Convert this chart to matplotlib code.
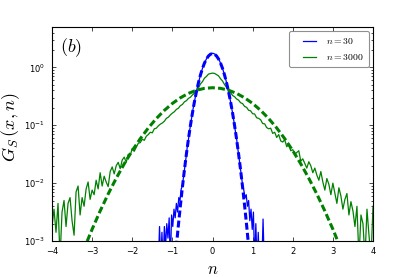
import numpy as np
import matplotlib
matplotlib.use("Agg")
import matplotlib.pyplot as plt
from matplotlib.legend_handler import HandlerLine2D

plt.rcParams['mathtext.fontset'] = 'cm'
plt.rcParams['font.family'] = ['DejaVu Sans']
plt.rcParams['lines.scale_dashes'] = False

# ---------------- data ----------------
# n = 30 : histogram (log10 of G_S), bins -1.35 ... 1.35 step 0.03
blue_x = np.linspace(-1.35, 1.35, 91)
blue_log10 = [
    -3.4, -2.75, -3.4, -2.85, -3.4, -2.75, -3.1, -2.7, -2.95, -2.6,
    -3.4, -2.55, -2.75, -2.45, -2.6, -2.35, -2.5, -2.25, -2.3, -2.1,
    -2.05, -1.88, -1.72, -1.56, -1.38, -1.25, -1.09, -0.96, -0.83, -0.70,
    -0.595, -0.48, -0.385, -0.29, -0.21, -0.13, -0.06, 0.005, 0.06, 0.105,
    0.15, 0.18, 0.21, 0.228, 0.24, 0.245, 0.24, 0.23, 0.205, 0.18,
    0.145, 0.108, 0.055, 0.0, -0.06, -0.135, -0.205, -0.295, -0.385, -0.49,
    -0.59, -0.71, -0.825, -0.96, -1.10, -1.23, -1.40, -1.55, -1.72, -1.87,
    -2.04, -2.12, -2.25, -2.2, -2.4, -2.3, -2.65, -2.45, -2.8, -2.5,
    -3.4, -2.7, -3.4, -2.85, -3.4, -3.4, -3.4, -2.62, -3.4, -3.4,
    -3.4,
]

# n = 3000 : histogram (log10 of G_S), bins -4 ... 4 step 0.05
green_x = np.linspace(-4.0, 4.0, 161)
green_log10 = [
    -2.75, -2.45, -2.85, -2.35, -3.30, -2.50, -2.30, -2.75, -2.35, -2.25,
    -2.65, -2.90, -2.15, -2.05, -2.55, -2.25, -2.40, -2.10, -1.98, -2.28,
    -2.12, -2.20, -1.95, -2.10, -1.82, -2.05, -1.88, -1.98, -2.06, -1.80,
    -1.72, -1.84, -1.70, -1.64, -1.75, -1.60, -1.55, -1.64, -1.50, -1.52,
    -1.40, -1.45, -1.38, -1.31, -1.30, -1.24, -1.26, -1.19, -1.16, -1.12,
    -1.13, -1.06, -1.05, -1.01, -0.98, -0.96, -0.93, -0.88, -0.86, -0.82,
    -0.79, -0.765, -0.725, -0.705, -0.66, -0.64, -0.595, -0.575, -0.535, -0.515,
    -0.475, -0.445, -0.395, -0.355, -0.285, -0.245, -0.185, -0.155, -0.115, -0.105,
    -0.098, -0.103, -0.125, -0.145, -0.195, -0.235, -0.295, -0.345, -0.405, -0.435,
    -0.485, -0.505, -0.545, -0.565, -0.61, -0.625, -0.675, -0.69, -0.74, -0.75,
    -0.80, -0.805, -0.87, -0.88, -0.905, -0.97, -0.975, -1.04, -1.06, -1.05,
    -1.14, -1.12, -1.21, -1.16, -1.27, -1.29, -1.25, -1.37, -1.33, -1.44,
    -1.42, -1.50, -1.47, -1.44, -1.62, -1.58, -1.66, -1.74, -1.63, -1.70,
    -1.82, -1.74, -1.86, -1.95, -1.80, -1.98, -2.12, -1.92, -2.02, -2.20,
    -2.00, -2.18, -2.35, -2.08, -2.22, -2.45, -2.28, -2.18, -2.55, -2.32,
    -2.48, -2.75, -2.40, -3.30, -2.55, -2.70, -3.30, -2.45, -2.90, -3.30,
    -2.40,
]

# Gaussian reference curves (dashed)
blue_fit_x = np.linspace(-0.95, 0.95, 39)
blue_fit = [0.000343, 0.000821, 0.00188, 0.00410, 0.00852, 0.0169, 0.0320,
            0.0577, 0.0995, 0.163, 0.256, 0.382, 0.545, 0.741, 0.961, 1.189,
            1.403, 1.579, 1.694, 1.735, 1.694, 1.579, 1.403, 1.189, 0.961,
            0.741, 0.545, 0.382, 0.256, 0.163, 0.0995, 0.0577, 0.0320, 0.0169,
            0.00852, 0.00410, 0.00188, 0.000821, 0.000343]

green_fit_x = np.linspace(-3.4, 3.4, 35)
green_fit = [0.000322, 0.000736, 0.001597, 0.00330, 0.00649, 0.01213, 0.02156,
             0.0365, 0.0587, 0.0899, 0.1308, 0.1811, 0.2386, 0.2988, 0.356,
             0.4035, 0.435, 0.446, 0.435, 0.4035, 0.356, 0.2988, 0.2386,
             0.1811, 0.1308, 0.0899, 0.0587, 0.0365, 0.02156, 0.01213,
             0.00649, 0.00330, 0.001597, 0.000736, 0.000322]

labels = [r'$n=30$', r'$n=3000$']
x_ticks = [-4, -3, -2, -1, 0, 1, 2, 3, 4]

# ---------------- figure ----------------
fig = plt.figure(figsize=(4.15, 2.77), dpi=100)
ax = fig.add_axes([52/415, 36/277, 321/415, 214/277])

blue = '#0000ff'
green = '#008000'

l1, = ax.plot(blue_x, 10 ** np.array(blue_log10), color=blue, lw=0.9, label=labels[0])
l2, = ax.plot(green_x, 10 ** np.array(green_log10), color=green, lw=0.9, label=labels[1])
ax.plot(blue_fit_x, blue_fit, color=blue, lw=2.2, dashes=(5.0, 2.3))
ax.plot(green_fit_x, green_fit, color=green, lw=2.2, dashes=(5.0, 2.3))

ax.set_yscale('log')
ax.set_ylim(1e-3, 5)
ax.set_xlim(-4, 4)
ax.set_xticks(x_ticks)

ax.tick_params(which='both', direction='in', top=True, right=True, width=0.5)
ax.tick_params(which='major', length=3, labelsize=6)
ax.tick_params(which='minor', length=1.6)
ax.tick_params(axis='x', pad=4.5)
ax.tick_params(axis='y', pad=5)
for s in ax.spines.values():
    s.set_linewidth(0.8)

ax.set_xlabel(r'$n$', fontsize=12)
ax.xaxis.set_label_coords(0.5, -0.09)
ax.set_ylabel(r'$G_S\,(x,n)$', fontsize=13)
ax.yaxis.set_label_coords(-0.095, 0.53)

ax.text(0.025, 0.955, r'$(b)$', transform=ax.transAxes, fontsize=13,
        ha='left', va='top')

leg = ax.legend(handles=[l1, l2], loc='upper right', fontsize=7,
                handlelength=2.3, handletextpad=1.0, borderpad=0.5,
                labelspacing=0.6, borderaxespad=0.45, fancybox=True,
                handler_map={l1: HandlerLine2D(xpad=0.95), l2: HandlerLine2D(xpad=0.95)})
leg.get_frame().set_edgecolor('0.45')
leg.get_frame().set_linewidth(0.8)

fig.savefig('out.png', dpi=100)
